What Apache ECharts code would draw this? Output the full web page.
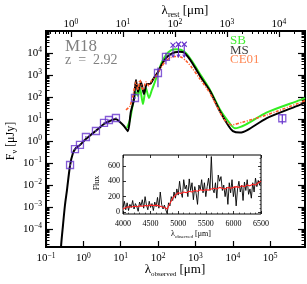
<!DOCTYPE html>
<html><head><meta charset="utf-8">
<script src="https://cdn.jsdelivr.net/npm/echarts@6/dist/echarts.min.js"></script>
<style>html,body{margin:0;padding:0;background:#fff}#c{width:307px;height:284px}</style>
</head><body><div id="c"></div>
<script>
// ---- Main SED model curves (wavelength in micron, flux in microJy) ----
const msWave = [0.24, 0.252, 0.285, 0.322, 0.364, 0.438, 0.527, 0.634, 0.81, 1.17, 1.70, 2.46, 3.55, 5.1, 7.4, 9.5, 12.2, 15.5, 18.6, 22.4, 25.5, 28.9, 34.7, 41.7, 50, 60, 77, 99, 127, 162, 208, 282, 382, 490, 630, 850, 1320, 2430, 4470, 7400, 10000, 15400, 25000, 79000, 620000, 850000];
const msFlux = [1e-6, 1.5e-5, 1.5e-4, 1.23e-3, 5.9e-3, 0.073, 0.285, 0.48, 0.66, 1.23, 2.1, 3.5, 5.9, 8.1, 10, 7.3, 4.8, 2.8, 21, 73, 590, 170, 480, 137, 390, 390, 730, 1380, 3160, 5900, 8500, 10800, 11500, 10500, 6600, 3160, 900, 190, 23, 5.3, 2.8, 2.4, 3.2, 10.7, 43.6, 55];
const sbWave = [14.7, 17.6, 21.2, 25.5, 28.9, 32.6, 39.3, 47.2, 56.8, 68, 82, 99, 127, 162, 219, 299, 407, 550, 795, 1320, 2430, 4470, 7400, 11300, 22000, 79000, 620000, 850000];
const sbFlux = [3.9, 9, 48, 170, 112, 257, 48, 257, 90, 208, 480, 1230, 3900, 8100, 13000, 14800, 14000, 10000, 4360, 1120, 215, 28, 8.1, 3.8, 5.6, 19.5, 72, 89];
const ceWave = [13.8, 17.6, 21.2, 25.5, 28.9, 32.6, 39.3, 47.2, 56.8, 68, 82, 99, 127, 162, 219, 299, 407, 550, 795, 1320, 2430, 4470, 6000, 9200, 18000, 79000, 620000, 850000];
const ceFlux = [26, 39, 112, 480, 208, 590, 208, 480, 316, 590, 730, 1230, 2570, 4400, 6300, 6900, 6500, 4500, 2200, 660, 150, 21, 9, 5.4, 7.1, 15.1, 55, 68];

// ---- Photometry (squares) ----
const photWave = [0.44, 0.596, 0.81, 1.17, 2.17, 3.56, 4.83, 7.44, 24, 99, 162, 210000];
const photFlux = [0.081, 0.43, 0.66, 1.52, 2.84, 6.6, 9.0, 11.1, 90, 1230, 6600, 10.8];
const photErr  = [0.01, 0.04, 0.06, 0.15, 0.3, 0.5, 0.7, 0.9, 10, 950, 3600, 5];
// ---- Upper limits (crosses with downward arrows) ----
const limWave = [250, 350, 500];
const limFlux = [23000, 25000, 25000];
const limArrow = [6600, 6600, 6600];

// ---- Inset spectrum ----
const specWave = [4000,4025,4050,4075,4100,4125,4150,4175,4200,4225,4250,4275,4300,4325,4350,4375,4400,4425,4450,4475,4500,4525,4550,4575,4600,4625,4650,4675,4700,4725,4750,4775,4800,4825,4850,4875,4900,4925,4950,4975,5000,5025,5050,5075,5100,5125,5150,5175,5200,5225,5250,5275,5300,5325,5350,5375,5400,5425,5450,5475,5500,5525,5550,5575,5600,5625,5650,5675,5700,5725,5750,5775,5800,5825,5850,5875,5900,5925,5950,5975,6000,6025,6050,6075,6100,6125,6150,6175,6200,6225,6250,6275,6300,6325,6350,6375,6400,6425,6450,6475,6500];
const specFlux = [60,140,30,120,20,100,60,150,40,110,70,10,130,80,160,50,200,90,30,140,60,110,20,130,70,190,50,260,100,40,90,30,-20,120,80,200,150,260,180,300,220,400,260,190,420,300,350,200,430,280,380,160,330,240,100,350,290,420,250,380,200,330,440,280,720,300,250,380,180,480,400,460,280,350,200,320,100,380,250,420,200,330,80,300,400,260,350,150,390,280,420,230,300,180,380,260,440,330,410,350,420];
const modelWave = [4000,4050,4100,4150,4200,4250,4300,4350,4400,4450,4500,4550,4600,4650,4700,4750,4800,4850,4900,4950,5000,5050,5100,5150,5200,5250,5300,5350,5400,5450,5500,5550,5600,5650,5700,5750,5800,5850,5900,5950,6000,6050,6100,6150,6200,6250,6300,6350,6400,6450,6500];
const modelFlux = [40,60,70,65,75,70,80,75,85,80,90,85,90,80,70,60,40,110,180,220,250,240,260,250,270,260,280,270,290,280,290,285,300,310,300,320,310,300,320,310,320,330,320,340,330,350,340,360,350,380,400];

// ---- Tick labels ----
const xObsTicks = [-1, 0, 1, 2, 3, 4, 5];
const xRestTicks = [0, 1, 2, 3, 4];
const yTicks = [-4, -3, -2, -1, 0, 1, 2, 3, 4];
const insetXTicks = [4000, 4500, 5000, 5500, 6000, 6500];
const insetYTicks = [0, 200, 400, 600];

const SERIF = "'Liberation Serif','DejaVu Serif',serif";
const L = Math.log10;
const pairs = (w, f) => w.map((x, i) => [L(x), L(f[i])]);
const minorLog = (lo, hi) => { const r = []; for (let k = Math.floor(lo) - 1; k <= Math.ceil(hi); k++) for (let m = 2; m <= 9; m++) { const v = k + L(m); if (v > lo && v < hi) r.push(v); } return r; };
const minus = n => (n < 0 ? '\u2212' + (-n) : '' + n);
const powFmt = v => '{b|10}{s|' + minus(Math.round(v)) + '}';
const powRich = { b: { fontSize: 11, fontFamily: SERIF, color: '#000', lineHeight: 13 }, s: { fontSize: 7.5, fontFamily: SERIF, color: '#000', verticalAlign: 'top', lineHeight: 13 } };
const plainFmt = v => String(Math.round(v));

const X0 = [-1, 5.93], XR = [-0.48, 4.5], Y0 = [-4.82, 5.0];
const IY = [-25, 740];

const hide = { show: false };
function axisBase(extra) {
  return Object.assign({ type: 'value', axisLine: { show: false, onZero: false }, splitLine: hide, axisLabel: hide, axisTick: hide }, extra);
}

const option = {
  animation: false,
  grid: [
    { left: 46, top: 31, width: 259, height: 216, show: true, borderColor: '#000', borderWidth: 2, backgroundColor: 'transparent' },
    { left: 123, top: 155, width: 138, height: 59, show: true, borderColor: '#000', borderWidth: 1, backgroundColor: '#fff' }
  ],
  xAxis: [
    axisBase({ gridIndex: 0, position: 'bottom', min: X0[0], max: X0[1],
      axisTick: { show: true, inside: true, length: 6, lineStyle: { color: '#000', width: 1.2 }, customValues: xObsTicks },
      axisLabel: { show: true, margin: 5, formatter: powFmt, rich: powRich, customValues: xObsTicks } }),
    axisBase({ gridIndex: 0, position: 'top', min: XR[0], max: XR[1],
      axisTick: { show: true, inside: true, length: 6, lineStyle: { color: '#000', width: 1.2 }, customValues: xRestTicks },
      axisLabel: { show: true, margin: 0, formatter: powFmt, rich: powRich, customValues: xRestTicks } }),
    axisBase({ gridIndex: 0, position: 'top', min: XR[0], max: XR[1],
      axisTick: { show: true, inside: true, length: 3, lineStyle: { color: '#000', width: 1 }, customValues: minorLog(XR[0], XR[1]) } }),
    axisBase({ gridIndex: 1, position: 'bottom', min: 4000, max: 6500,
      axisTick: { show: true, inside: true, length: 3, lineStyle: { color: '#000', width: 0.8 }, customValues: insetXTicks },
      axisLabel: { show: true, margin: 6, fontSize: 8, fontFamily: SERIF, color: '#000', formatter: plainFmt, customValues: insetXTicks } }),
    axisBase({ gridIndex: 1, position: 'bottom', min: 4000, max: 6500,
      axisTick: { show: true, inside: true, length: 1.5, lineStyle: { color: '#000', width: 0.6 }, customValues: [4100,4200,4300,4400,4600,4700,4800,4900,5100,5200,5300,5400,5600,5700,5800,5900,6100,6200,6300,6400] } }),
    axisBase({ gridIndex: 1, position: 'top', min: 4000, max: 6500,
      axisTick: { show: true, inside: true, length: 3, lineStyle: { color: '#000', width: 0.8 }, customValues: insetXTicks } })
  ],
  yAxis: [
    axisBase({ gridIndex: 0, position: 'left', min: Y0[0], max: Y0[1],
      axisTick: { show: true, inside: true, length: 7, lineStyle: { color: '#000', width: 1.2 }, customValues: yTicks },
      axisLabel: { show: true, margin: 4, formatter: powFmt, rich: powRich, customValues: yTicks } }),
    axisBase({ gridIndex: 0, position: 'left', min: Y0[0], max: Y0[1],
      axisTick: { show: true, inside: true, length: 3.5, lineStyle: { color: '#000', width: 1 }, customValues: minorLog(Y0[0], Y0[1]) } }),
    axisBase({ gridIndex: 0, position: 'right', min: Y0[0], max: Y0[1],
      axisTick: { show: true, inside: true, length: 7, lineStyle: { color: '#000', width: 1.2 }, customValues: yTicks } }),
    axisBase({ gridIndex: 0, position: 'right', min: Y0[0], max: Y0[1],
      axisTick: { show: true, inside: true, length: 3.5, lineStyle: { color: '#000', width: 1 }, customValues: minorLog(Y0[0], Y0[1]) } }),
    axisBase({ gridIndex: 1, position: 'left', min: IY[0], max: IY[1],
      axisTick: { show: true, inside: true, length: 3, lineStyle: { color: '#000', width: 0.8 }, customValues: insetYTicks },
      axisLabel: { show: true, margin: 3, fontSize: 8, fontFamily: SERIF, color: '#000', formatter: plainFmt, customValues: insetYTicks } }),
    axisBase({ gridIndex: 1, position: 'right', min: IY[0], max: IY[1],
      axisTick: { show: true, inside: true, length: 3, lineStyle: { color: '#000', width: 0.8 }, customValues: insetYTicks } }),
    axisBase({ gridIndex: 1, position: 'right', min: IY[0], max: IY[1],
      axisTick: { show: true, inside: true, length: 1.5, lineStyle: { color: '#000', width: 0.6 }, customValues: [50,100,150,250,300,350,450,500,550,650,700] } })
  ],
  series: [
    { type: 'line', name: 'SB', xAxisIndex: 0, yAxisIndex: 0, data: pairs(sbWave, sbFlux), symbol: 'none', smooth: 0.25, lineStyle: { color: '#33ee22', width: 2 }, z: 2 },
    { type: 'line', name: 'MS', xAxisIndex: 0, yAxisIndex: 0, data: pairs(msWave, msFlux), symbol: 'none', smooth: 0.25, lineStyle: { color: '#000', width: 2 }, z: 3 },
    { type: 'line', name: 'CE01', xAxisIndex: 0, yAxisIndex: 0, data: pairs(ceWave, ceFlux), symbol: 'none', smooth: 0.25, lineStyle: { color: '#ff5a28', width: 1.6, type: [3, 1.5, 1, 1.5] }, z: 4 },
    { type: 'custom', xAxisIndex: 0, yAxisIndex: 0, z: 5,
      data: photWave.map((w, i) => [L(w), L(Math.max(photFlux[i] - photErr[i], 1e-9)), L(photFlux[i] + photErr[i])]),
      renderItem: (p, api) => { const a = api.coord([api.value(0), api.value(1)]), b = api.coord([api.value(0), api.value(2)]);
        return { type: 'line', shape: { x1: a[0], y1: a[1], x2: b[0], y2: b[1] }, style: { stroke: '#6633cc', lineWidth: 1.2 } }; } },
    { type: 'scatter', xAxisIndex: 0, yAxisIndex: 0, z: 6, data: pairs(photWave, photFlux), symbol: 'rect', symbolSize: 7,
      itemStyle: { color: 'rgba(0,0,0,0)', borderColor: '#6633cc', borderWidth: 1.3 } },
    { type: 'custom', xAxisIndex: 0, yAxisIndex: 0, z: 6,
      data: limWave.map((w, i) => [L(w), L(limFlux[i]), L(limArrow[i])]),
      renderItem: (p, api) => { const a = api.coord([api.value(0), api.value(1)]), b = api.coord([api.value(0), api.value(2)]); const s = 2.5, st = { stroke: '#6633cc', lineWidth: 1.1 };
        return { type: 'group', children: [
          { type: 'line', shape: { x1: a[0] - s, y1: a[1] - s, x2: a[0] + s, y2: a[1] + s }, style: st },
          { type: 'line', shape: { x1: a[0] - s, y1: a[1] + s, x2: a[0] + s, y2: a[1] - s }, style: st },
          { type: 'line', shape: { x1: a[0], y1: a[1], x2: b[0], y2: b[1] }, style: st },
          { type: 'polyline', shape: { points: [[b[0] - 1.5, b[1] - 2.5], [b[0], b[1]], [b[0] + 1.5, b[1] - 2.5]] }, style: Object.assign({ fill: null }, st) }
        ] }; } },
    { type: 'line', xAxisIndex: 3, yAxisIndex: 4, data: specWave.map((w, i) => [w, specFlux[i]]), symbol: 'none', lineStyle: { color: '#000', width: 0.9 }, z: 7 },
    { type: 'line', xAxisIndex: 3, yAxisIndex: 4, data: modelWave.map((w, i) => [w, modelFlux[i]]), symbol: 'none', lineStyle: { color: '#ff2222', width: 1.1 }, z: 8 }
  ],
  graphic: [
    { type: 'text', x: 65, y: 47, style: { text: 'M18', fill: '#808080', fontSize: 17, fontFamily: SERIF, verticalAlign: 'middle' } },
    { type: 'text', x: 65, y: 60, style: { text: 'z  =  2.92', fill: '#808080', fontSize: 14, fontFamily: SERIF, verticalAlign: 'middle' } },
    { type: 'text', x: 230, y: 41, style: { text: 'SB', fill: '#44ee33', fontSize: 13, fontFamily: SERIF, verticalAlign: 'middle' } },
    { type: 'text', x: 230, y: 51, style: { text: 'MS', fill: '#404040', fontSize: 13, fontFamily: SERIF, verticalAlign: 'middle' } },
    { type: 'text', x: 230, y: 60, style: { text: 'CE01', fill: '#ff8855', fontSize: 13, fontFamily: SERIF, verticalAlign: 'middle' } },
    { type: 'text', x: 175, y: 270, style: { text: '{a|\u03bb}{s|observed}{a| [\u03bcm]}', align: 'center', verticalAlign: 'middle',
      rich: { a: { fontSize: 13, fontFamily: SERIF, color: '#000', lineHeight: 16 }, s: { fontSize: 7, fontFamily: SERIF, color: '#000', verticalAlign: 'bottom', lineHeight: 16 } } } },
    { type: 'text', x: 185, y: 11, style: { text: '{a|\u03bb}{s|rest}{a| [\u03bcm]}', align: 'center', verticalAlign: 'middle',
      rich: { a: { fontSize: 13, fontFamily: SERIF, color: '#000', lineHeight: 16 }, s: { fontSize: 8, fontFamily: SERIF, color: '#000', verticalAlign: 'bottom', lineHeight: 16 } } } },
    { type: 'text', x: 11, y: 141, rotation: Math.PI / 2, style: { text: '{a|F}{s|\u03bd}{a| [\u03bcJy]}', align: 'center', verticalAlign: 'middle',
      rich: { a: { fontSize: 12, fontFamily: SERIF, color: '#000', lineHeight: 15 }, s: { fontSize: 8, fontFamily: SERIF, color: '#000', verticalAlign: 'bottom', lineHeight: 15 } } } },
    { type: 'text', x: 97, y: 183, rotation: Math.PI / 2, style: { text: 'Flux', fill: '#000', fontSize: 8, fontFamily: SERIF, align: 'center', verticalAlign: 'middle' } },
    { type: 'text', x: 191, y: 234, style: { text: '{a|\u03bb}{s|observed}{a| [\u03bcm]}', align: 'center', verticalAlign: 'middle',
      rich: { a: { fontSize: 8, fontFamily: SERIF, color: '#000', lineHeight: 10 }, s: { fontSize: 5, fontFamily: SERIF, color: '#000', verticalAlign: 'bottom', lineHeight: 10 } } } }
  ]
};
const chart = echarts.init(document.getElementById('c'), null, { renderer: 'canvas' });
chart.setOption(option);
</script>
</body></html>
